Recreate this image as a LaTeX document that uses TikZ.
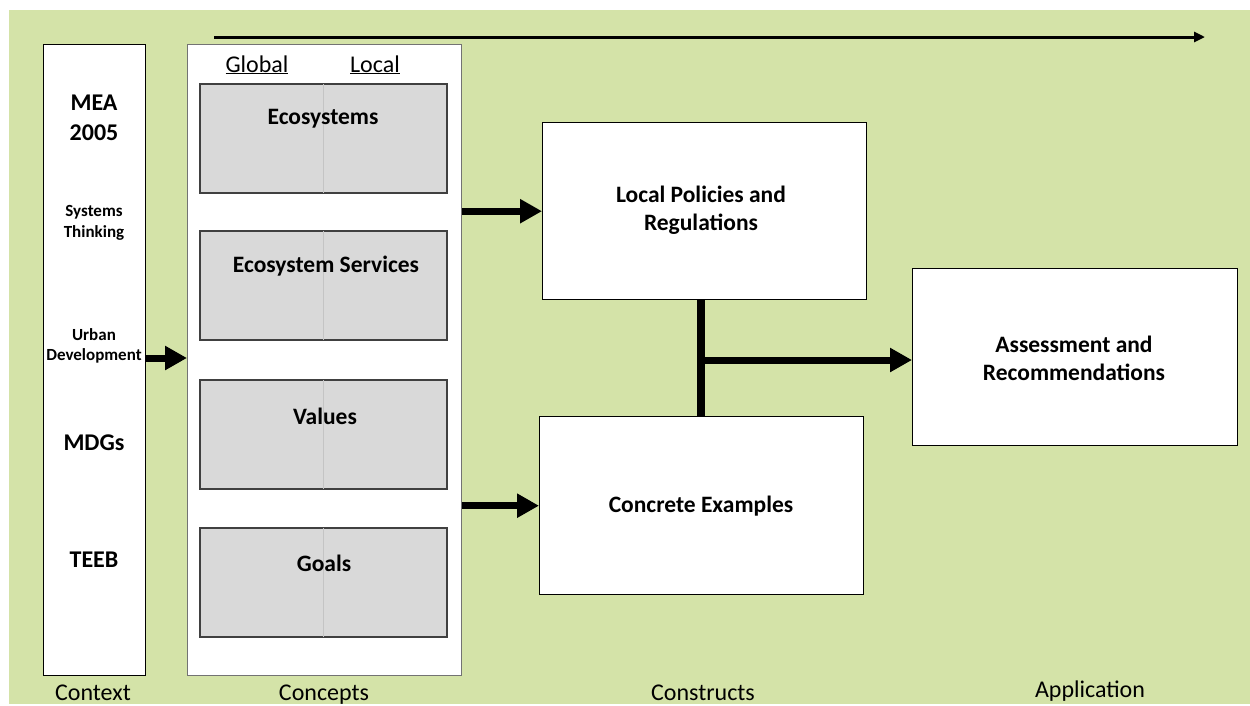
\documentclass[tikz,border=0pt]{standalone}
\usepackage{fontspec}
\setmainfont{Carlito}
\usetikzlibrary{arrows.meta}
\definecolor{bg}{RGB}{212,227,168}
\definecolor{boxgray}{RGB}{217,217,217}
\definecolor{graybrd}{RGB}{64,64,64}
\definecolor{midline}{RGB}{196,196,196}
\begin{document}
\begin{tikzpicture}[x=1pt,y=-1pt,
  wbox/.style={draw=black, line width=1.4pt, fill=white, inner sep=0pt, anchor=north west},
  cbox/.style={draw=black!55, line width=1.2pt, fill=white, inner sep=0pt, anchor=north west},
  gbox/.style={draw=graybrd, line width=1.6pt, fill=boxgray, inner sep=0pt, anchor=north west, minimum width=247pt, minimum height=109pt},
  lbl/.style={font=\bfseries\fontsize{23.5}{28}\selectfont, align=center, inner sep=0pt},
  sml/.style={font=\bfseries\fontsize{17}{20.5}\selectfont, align=center, inner sep=0pt},
  ctx/.style={font=\bfseries\fontsize{24}{30}\selectfont, align=center, inner sep=0pt},
  captxt/.style={font=\fontsize{24}{28}\selectfont, inner sep=0pt},
  fat/.style={line width=7pt, -{Triangle[length=22pt, width=23pt]}, shorten >=0pt},
  bar/.style={line width=8pt},
  toparrow/.style={line width=3pt, -{Triangle[length=11pt, width=10pt]}}
]
\useasboundingbox (0,0) rectangle (1250,705);
\fill[bg] (9,10) rectangle (1250,704);

% top arrow
\coordinate (ts) at (214,37);
\coordinate (te) at (1205,37);
\draw[toparrow] (ts) -- (te);

% context column
\node[wbox, minimum width=102pt, minimum height=631pt] (context) at (43,44) {};
\node[ctx] (mea) at (94,118) {MEA\\2005};
\node[sml] (syst) at (94,223) {Systems\\Thinking};
\node[sml] (urban) at (94,346) {Urban\\Development};
\node[ctx] (mdgs) at (94,443) {MDGs};
\node[ctx] (teeb) at (94,560) {TEEB};

% concepts column
\node[cbox, minimum width=274pt, minimum height=631pt] (concepts) at (187,44) {};
\node[captxt, anchor=base] (global) at (257,72) {\underline{Global}};
\node[captxt, anchor=base] (local) at (375,72) {\underline{Local}};

\node[gbox] (eco) at (199,83) {};
\node[gbox] (ess) at (199,230) {};
\node[gbox] (val) at (199,379) {};
\node[gbox] (goa) at (199,527) {};
\foreach \b in {eco,ess,val,goa}{
  \draw[midline, line width=0.7pt] ([yshift=-1pt]\b.north) -- ([yshift=1pt]\b.south);
}
\node[lbl] (ecot) at (323,119) {Ecosystems};
\node[lbl] (esst) at (326,266) {Ecosystem Services};
\node[lbl] (valt) at (325,416) {Values};
\node[lbl] (goat) at (324,563) {Goals};

% constructs
\node[wbox, minimum width=324pt, minimum height=177pt] (lp) at (542,122) {};
\node[lbl] (lpt) at (701,210) {Local Policies and\\Regulations};
\node[wbox, minimum width=324pt, minimum height=178pt] (ce) at (539,416) {};
\node[lbl] (cet) at (701,506) {Concrete Examples};

% application
\node[wbox, minimum width=325pt, minimum height=177pt] (assess) at (912,268) {};
\node[lbl] (ast) at (1074,358) {Assessment and\\Recommendations};

% connectors
\draw[fat] (context.east |- 0,358) -- (concepts.west |- 0,358);
\draw[fat] (concepts.east |- lp.west) -- (lp.west);
\draw[fat] (concepts.east |- ce.west) -- (ce.west);
\coordinate (jt) at (701,360);
\draw[bar] (lp.south -| jt) -- (ce.north -| jt);
\draw[fat] ([xshift=-4pt]jt) -- (assess.west |- jt);

% column captions
\node[captxt, anchor=base] (capctx) at (93,700) {Context};
\node[captxt, anchor=base] (capcon) at (324,700) {Concepts};
\node[captxt, anchor=base] (capcst) at (703,700) {Constructs};
\node[captxt, anchor=base] (capapp) at (1090,697) {Application};
\end{tikzpicture}
\end{document}
